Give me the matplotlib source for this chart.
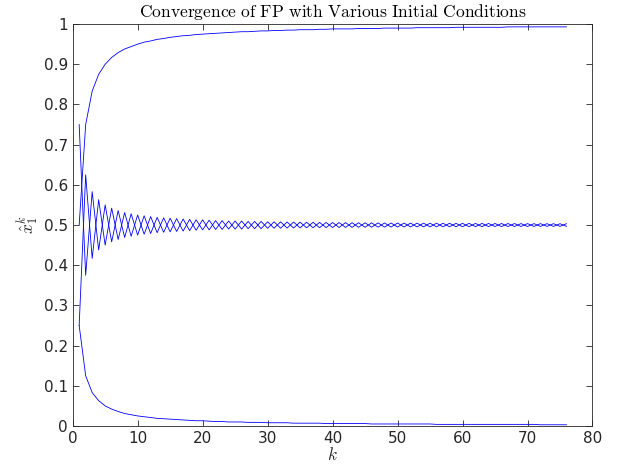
import matplotlib
matplotlib.use("Agg")
import matplotlib.pyplot as plt

plt.rcParams["mathtext.fontset"] = "cm"
plt.rcParams["font.family"] = "DejaVu Sans"

k = list(range(1, 77))

top = [0.500, 0.750, 0.833, 0.875, 0.900, 0.917, 0.929, 0.938, 0.944, 0.950,
       0.955, 0.958, 0.962, 0.964, 0.967, 0.969, 0.971, 0.972, 0.974, 0.975,
       0.976, 0.977, 0.978, 0.979, 0.980, 0.981, 0.981, 0.982, 0.983, 0.983,
       0.984, 0.984, 0.985, 0.985, 0.986, 0.986, 0.986, 0.987, 0.987, 0.988,
       0.988, 0.988, 0.988, 0.989, 0.989, 0.989, 0.989, 0.990, 0.990, 0.990,
       0.990, 0.990, 0.991, 0.991, 0.991, 0.991, 0.991, 0.991, 0.992, 0.992,
       0.992, 0.992, 0.992, 0.992, 0.992, 0.992, 0.993, 0.993, 0.993, 0.993,
       0.993, 0.993, 0.993, 0.993, 0.993, 0.993]

bottom = [0.250, 0.125, 0.083, 0.063, 0.050, 0.042, 0.036, 0.031, 0.028, 0.025,
          0.023, 0.021, 0.019, 0.018, 0.017, 0.016, 0.015, 0.014, 0.013, 0.013,
          0.012, 0.011, 0.011, 0.010, 0.010, 0.010, 0.009, 0.009, 0.009, 0.008,
          0.008, 0.008, 0.008, 0.007, 0.007, 0.007, 0.007, 0.007, 0.006, 0.006,
          0.006, 0.006, 0.006, 0.006, 0.006, 0.005, 0.005, 0.005, 0.005, 0.005,
          0.005, 0.005, 0.005, 0.005, 0.005, 0.004, 0.004, 0.004, 0.004, 0.004,
          0.004, 0.004, 0.004, 0.004, 0.004, 0.004, 0.004, 0.004, 0.004, 0.004,
          0.004, 0.003, 0.003, 0.003, 0.003, 0.003]

osc_a = [0.750, 0.375, 0.583, 0.438, 0.550, 0.458, 0.536, 0.469, 0.528, 0.475,
         0.523, 0.479, 0.519, 0.482, 0.517, 0.484, 0.515, 0.486, 0.513, 0.488,
         0.512, 0.489, 0.511, 0.490, 0.510, 0.490, 0.509, 0.491, 0.509, 0.492,
         0.508, 0.492, 0.5076, 0.4926, 0.5071, 0.4931, 0.5068, 0.4934, 0.5064, 0.4937,
         0.5061, 0.4940, 0.5058, 0.4943, 0.5056, 0.4946, 0.5053, 0.4948, 0.5051, 0.4950,
         0.5049, 0.4952, 0.5047, 0.4954, 0.5045, 0.4955, 0.5044, 0.4957, 0.5042, 0.4958,
         0.5041, 0.4960, 0.5040, 0.4961, 0.5038, 0.4962, 0.5037, 0.4963, 0.5036, 0.4964,
         0.5035, 0.4965, 0.5034, 0.4966, 0.5033, 0.4967]

osc_b = [0.250, 0.625, 0.417, 0.563, 0.450, 0.542, 0.464, 0.531, 0.472, 0.525,
         0.477, 0.521, 0.481, 0.518, 0.483, 0.516, 0.485, 0.514, 0.487, 0.513,
         0.488, 0.511, 0.489, 0.510, 0.490, 0.510, 0.491, 0.509, 0.491, 0.508,
         0.492, 0.508, 0.4924, 0.5074, 0.4929, 0.5069, 0.4932, 0.5066, 0.4936, 0.5063,
         0.4939, 0.5060, 0.4942, 0.5057, 0.4944, 0.5054, 0.4947, 0.5052, 0.4949, 0.5050,
         0.4951, 0.5048, 0.4953, 0.5046, 0.4955, 0.5045, 0.4956, 0.5043, 0.4958, 0.5042,
         0.4959, 0.5040, 0.4960, 0.5039, 0.4962, 0.5038, 0.4963, 0.5037, 0.4964, 0.5036,
         0.4965, 0.5035, 0.4966, 0.5034, 0.4967, 0.5033]

xticks = [0, 10, 20, 30, 40, 50, 60, 70, 80]
yticks = [0, 0.1, 0.2, 0.3, 0.4, 0.5, 0.6, 0.7, 0.8, 0.9, 1]
ytick_labels = ["0", "0.1", "0.2", "0.3", "0.4", "0.5", "0.6", "0.7", "0.8", "0.9", "1"]

dark = (0.15, 0.15, 0.15)

fig = plt.figure(figsize=(6.18, 4.72), dpi=100)
ax = fig.add_axes([0.1176, 0.0975, 0.8411, 0.8515])

for series in [top, osc_a, osc_b, bottom]:
    ax.plot(k, series, color=(0, 0, 1), linewidth=0.6)

ax.set_xlim(0, 80)
ax.set_ylim(0, 1)
ax.set_xticks(xticks)
ax.set_yticks(yticks)
ax.set_yticklabels(ytick_labels)
ax.tick_params(direction="in", length=4, width=0.6, colors=dark,
               labelsize=11, top=True, right=True)
for sp in ax.spines.values():
    sp.set_color(dark)
    sp.set_linewidth(0.6)

ax.set_title(r"$\mathrm{Convergence\ of\ FP\ with\ Various\ Initial\ Conditions}$",
             fontsize=12.6, color="black", pad=5)
ax.set_xlabel(r"$k$", fontsize=12.5, color=dark, labelpad=0)
ax.set_ylabel(r"$\hat{x}_1^k$", fontsize=12.5, color=dark, labelpad=2)

fig.savefig("out.png", dpi=100)
